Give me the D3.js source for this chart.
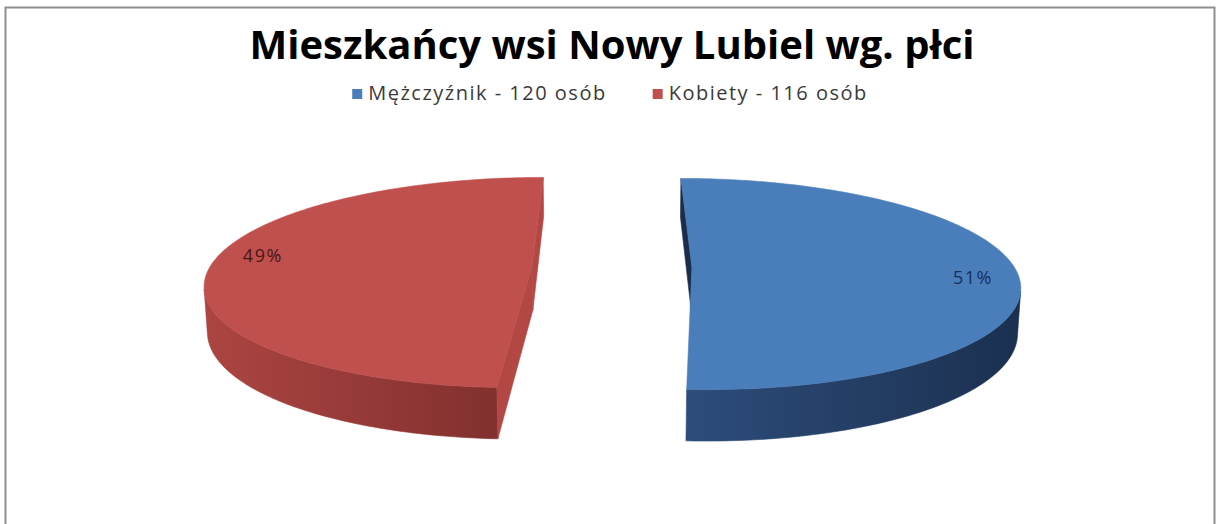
<!DOCTYPE html>
<html>
<head>
<meta charset="utf-8">
<script src="https://cdn.jsdelivr.net/npm/d3@7"></script>
<style>
  body { margin: 0; background: #fff; }
  svg { display: block; }
</style>
</head>
<body>
<svg width="1217" height="524"></svg>
<script>
var title = "Mieszkańcy wsi Nowy Lubiel wg. płci";
var categories = ["Mężczyźnik - 120 osób", "Kobiety - 116 osób"];
var values = [120, 116];

var topColors = ["#4A7EBB", "#C0504D"];
var sideLight = ["#2D4D7B", "#AC4542"];
var sideDark = ["#1B3050", "#7B2D2B"];
var cutColors = ["#1A2D4A", "#B34743"];
var labelColors = ["#16305A", "#4A1513"];

var svg = d3.select("svg");
var defs = svg.append("defs");

// frame
svg.append("rect")
  .attr("x", 5.5).attr("y", 7.5)
  .attr("width", 1209).attr("height", 540)
  .attr("fill", "#fff")
  .attr("stroke", "#8f8f8f")
  .attr("stroke-width", 2);

// simple perspective camera for the 3D pie
var cam = { cx: 612, cy: 266.5, f: 1916, D: 5.95, phi: 18.6 * Math.PI / 180 };
var explode = 0.248, depth = 0.146;
var labelRadius = 0.86, labelShift = 5 * Math.PI / 180;
var sinP = Math.sin(cam.phi), cosP = Math.cos(cam.phi);
var camPos = [0, cam.D * sinP, cam.D * cosP];

function project(p) {
  var v = p[1] * cosP - p[2] * sinP;
  var d = cam.D - p[2] * cosP - p[1] * sinP;
  return [cam.cx + cam.f * p[0] / d, cam.cy - cam.f * v / d];
}
function facing(p, n) {
  return (camPos[0] - p[0]) * n[0] + (camPos[1] - p[1]) * n[1] + (camPos[2] - p[2]) * n[2] > 0;
}
var line = d3.line();

var pie = d3.pie().sort(null).value(function(d) { return d; });
var arcs = pie(values);
var total = d3.sum(values);
var fmt = d3.format(".0%");

arcs.forEach(function(a, i) {
  var mid = (a.startAngle + a.endAngle) / 2;
  var ox = explode * Math.sin(mid), oz = -explode * Math.cos(mid);
  function rim(t, y) { return [ox + Math.sin(t), y, oz - Math.cos(t)]; }
  var steps = 160;
  var angles = d3.range(steps + 1).map(function(k) {
    return a.startAngle + (a.endAngle - a.startAngle) * k / steps;
  });

  var g = svg.append("g").attr("class", "slice slice-" + i);

  var xs = angles.map(function(t) { return project(rim(t, 0))[0]; });
  var gid = "side" + i;
  var grad = defs.append("linearGradient")
    .attr("id", gid)
    .attr("gradientUnits", "userSpaceOnUse")
    .attr("x1", d3.min(xs)).attr("x2", d3.max(xs))
    .attr("y1", 0).attr("y2", 0);
  grad.append("stop").attr("offset", 0).attr("stop-color", sideLight[i]);
  grad.append("stop").attr("offset", 1).attr("stop-color", sideDark[i]);

  // curved outer side, only the part turned to the camera
  var vis = angles.filter(function(t) {
    return facing(rim(t, -depth / 2), [Math.sin(t), 0, -Math.cos(t)]);
  });
  if (vis.length > 1) {
    var pts = vis.map(function(t) { return project(rim(t, 0)); })
      .concat(vis.slice().reverse().map(function(t) { return project(rim(t, -depth)); }));
    g.append("path")
      .attr("d", line(pts) + "Z")
      .attr("fill", "url(#" + gid + ")")
      .attr("stroke", "url(#" + gid + ")")
      .attr("stroke-width", 0.6);
  }

  // the two cut faces
  [[a.startAngle, -1], [a.endAngle, 1]].forEach(function(e) {
    var t = e[0];
    var n = [e[1] * Math.cos(t), 0, e[1] * Math.sin(t)];
    var c = [ox, -depth / 2, oz];
    var r = rim(t, -depth / 2);
    var m = [(c[0] + r[0]) / 2, c[1], (c[2] + r[2]) / 2];
    if (!facing(m, n)) return;
    var quad = [[ox, 0, oz], rim(t, 0), rim(t, -depth), [ox, -depth, oz]].map(project);
    g.append("path")
      .attr("d", line(quad) + "Z")
      .attr("fill", cutColors[i])
      .attr("stroke", cutColors[i])
      .attr("stroke-width", 0.6);
  });

  // top face
  var topPts = [project([ox, 0, oz])].concat(angles.map(function(t) { return project(rim(t, 0)); }));
  g.append("path")
    .attr("d", line(topPts) + "Z")
    .attr("fill", topColors[i])
    .attr("stroke", topColors[i])
    .attr("stroke-width", 0.6);

  // percentage label
  var la = mid + labelShift;
  var lp = project([ox + labelRadius * Math.sin(la), 0, oz - labelRadius * Math.cos(la)]);
  g.append("text")
    .attr("x", lp[0]).attr("y", lp[1])
    .attr("dy", "0.35em")
    .attr("text-anchor", "middle")
    .attr("font-family", "Open Sans, sans-serif")
    .attr("font-size", 18)
    .attr("letter-spacing", 1.5)
    .attr("fill", labelColors[i])
    .text(fmt(values[i] / total));
});

// title
svg.append("text")
  .attr("x", 612).attr("y", 59)
  .attr("text-anchor", "middle")
  .attr("font-family", "Open Sans, sans-serif")
  .attr("font-weight", "bold")
  .attr("font-size", 40)
  .attr("fill", "#000")
  .text(title);

// legend
var legend = svg.append("g").attr("class", "legend");
var items = legend.selectAll("g").data(categories).enter().append("g");
items.append("rect")
  .attr("width", 10).attr("height", 10)
  .attr("y", -11)
  .attr("fill", function(d, i) { return topColors[i]; });
items.append("text")
  .attr("x", 16)
  .attr("font-family", "Open Sans, sans-serif")
  .attr("font-size", 20)
  .attr("letter-spacing", 1.5)
  .attr("fill", "#3a3a3a")
  .text(function(d) { return d; });

var gap = 46, x = 0;
items.each(function() {
  var node = d3.select(this);
  node.attr("transform", "translate(" + x + ",0)");
  x += this.getBBox().width + gap;
});
var legendW = x - gap;
legend.attr("transform", "translate(" + (610 - legendW / 2) + ",100)");
</script>
</body>
</html>
